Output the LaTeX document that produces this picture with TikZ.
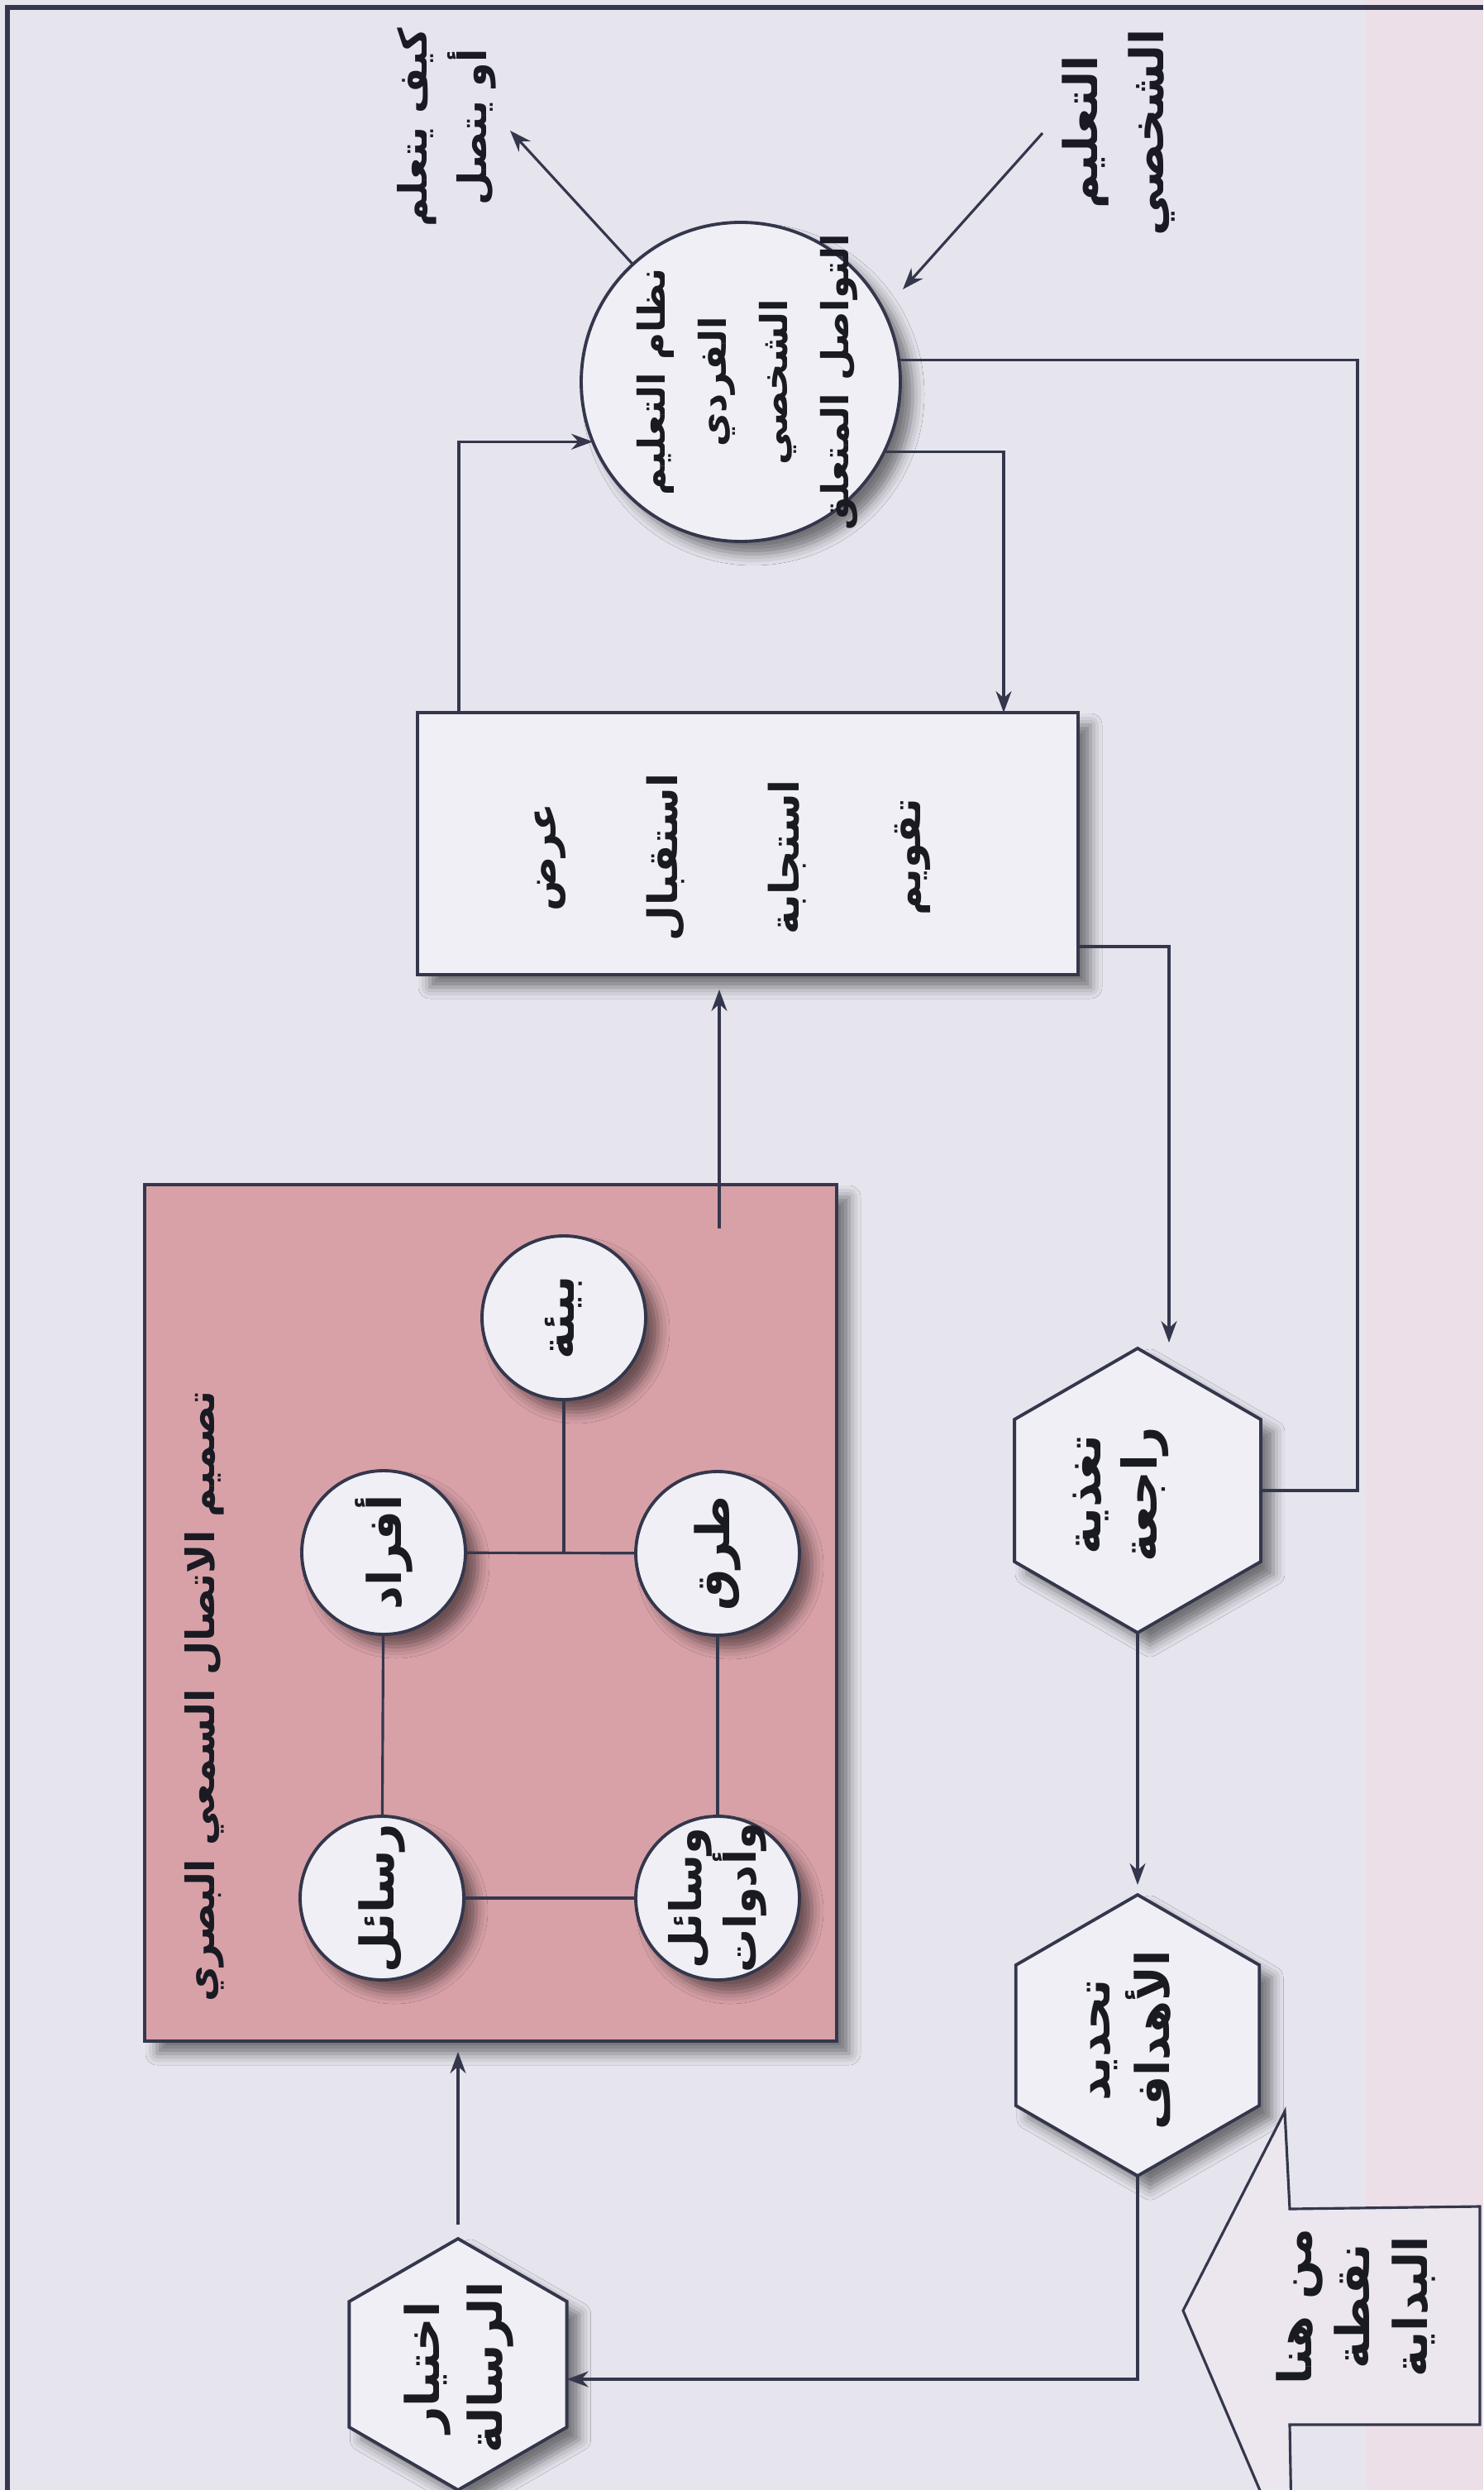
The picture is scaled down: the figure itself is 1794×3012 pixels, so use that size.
\documentclass[tikz,border=0pt]{standalone}
\usepackage{fontspec}
\newfontfamily\arabicfont[Script=Arabic]{DejaVu Sans}
\TeXXeTstate=1
\usetikzlibrary{arrows.meta,shapes.geometric,shadows.blur,calc}
\newcommand{\arl}[1]{\beginR #1\endR}
\definecolor{bgc}{HTML}{E6E5EE}
\definecolor{nodec}{HTML}{EFEFF5}
\definecolor{linec}{HTML}{34374C}
\definecolor{pinkc}{HTML}{D8A1A8}
\definecolor{stripc}{HTML}{EDDFE7}
\definecolor{startc}{HTML}{ECE7EE}
\definecolor{txtc}{HTML}{1A1A22}
\tikzset{
  ln/.style={draw=linec, line width=0.9pt},
  arr/.style={ln, -{Stealth[length=2.6mm,width=1.9mm]}},
  shp/.style={draw=linec, line width=1.1pt, fill=nodec, inner sep=0pt, outer sep=0pt,
    blur shadow={shadow xshift=1.5mm, shadow yshift=-1.5mm, shadow blur radius=1.4mm, shadow opacity=50}},
  rnd/.style={shp, circle},
  hexa/.style={shp, regular polygon, regular polygon sides=6, shape border rotate=90},
  txt/.style={font=\arabicfont\bfseries\fontsize{16}{21}\selectfont, rotate=90, align=center, inner sep=0pt, text=txtc},
}
\begin{document}
\begin{tikzpicture}[x=0.1mm, y=-0.1mm]
\useasboundingbox (0,0) rectangle (1794,3012);
\clip (0,0) rectangle (1794,3012);
% background
\fill[bgc] (0,0) rectangle (1794,3012);
\fill[stripc] (1652,0) rectangle (1794,3012);
\draw[linec, line width=1.5pt] (9,3012) -- (9,9) -- (1794,9);

% pink design box
\node[shp, fill=pinkc, rectangle, minimum width=83.7mm, minimum height=103.6mm] (pink) at (593.5,1951) {};
\node[txt, font=\arabicfont\bfseries\fontsize{13.5}{18}\selectfont] (pinkT) at (247,2052) {\arl{تصميم الاتصال السمعي البصري}};

% inner circles
\node[rnd, minimum size=19.8mm] (bia) at (682,1594) {};
\node[rnd, minimum size=19.8mm] (afrad) at (464,1878) {};
\node[rnd, minimum size=19.8mm] (turuq) at (868,1879) {};
\node[rnd, minimum size=19.8mm] (rasael) at (462,2296) {};
\node[rnd, minimum size=19.8mm] (wasael) at (868,2296) {};
\node[txt] (biaT) at (682,1594) {\arl{بيئة}};
\node[txt] (afradT) at (464,1878) {\arl{أفراد}};
\node[txt] (turuqT) at (868,1879) {\arl{طرق}};
\node[txt] (rasaelT) at (462,2296) {\arl{رسائل}};
\node[txt, font=\arabicfont\bfseries\fontsize{15}{19}\selectfont] (wasaelT) at (868,2296) {\arl{وسائل}\\\arl{وأدوات}};
\draw[ln] (afrad) -- (turuq);
\draw[ln] (bia.south) -- (bia.south |- afrad.east);
\draw[ln] (afrad) -- (rasael);
\draw[ln] (turuq) -- (wasael);
\draw[ln] (rasael) -- (wasael);

% presentation box
\node[shp, rectangle, minimum width=79.9mm, minimum height=31.7mm] (rect) at (904.5,1020.5) {};
\node[txt, font=\arabicfont\bfseries\fontsize{14}{41.8}\selectfont] (rectT) at (886,1037) {\arl{عرض}\\\arl{استقبال}\\\arl{استجابة}\\\arl{تقويم}};

% system circle
\node[rnd, minimum size=38.6mm] (sys) at (896,462) {};
\node[txt, font=\arabicfont\bfseries\fontsize{12.8}{21}\selectfont] (sysT) at (904,462) {\arl{نظام التعليم}\\\arl{الفردي}\\\arl{الشخصي}\\\arl{التواصل المتعلق}};

% labels
\node[txt, font=\arabicfont\bfseries\fontsize{13.5}{20.5}\selectfont] (howT) at (540,154) {\arl{كيف يتعلم}\\\arl{أو يتصل}};
\node[txt, font=\arabicfont\bfseries\fontsize{16}{23}\selectfont] (persT) at (1353,160) {\arl{التعليم}\\\arl{الشخصي}};
\coordinate (howA) at (617,158);
\coordinate (persA) at (1261,161);
\coordinate (persB) at (1092,350);

% hexagons
\node[hexa, minimum size=34.4mm] (fb) at (1376,1803) {};
\node[hexa, minimum size=34mm] (goals) at (1376,2462) {};
\node[hexa, minimum size=30.4mm] (sel) at (554,2860) {};
\node[txt, font=\arabicfont\bfseries\fontsize{16.5}{19.5}\selectfont] (fbT) at (1356,1808) {\arl{تغذية}\\\arl{راجعة}};
\node[txt, font=\arabicfont\bfseries\fontsize{16}{20.5}\selectfont] (goalsT) at (1366,2468) {\arl{تحديد}\\\arl{الأهداف}};
\node[txt, font=\arabicfont\bfseries\fontsize{16}{21.5}\selectfont] (selT) at (555,2864) {\arl{اختيار}\\\arl{الرسالة}};

% start arrow
\draw[linec, line width=0.9pt, fill=startc]
  (1431,2795) -- (1554,2554) -- (1560,2672) -- (1790,2669) -- (1790,2933)
  -- (1560,2933) -- (1562,3050) -- (1540,3050) -- cycle;
\node[txt, font=\arabicfont\bfseries\fontsize{16}{20}\selectfont] (startT) at (1640,2790) {\arl{من هنا}\\\arl{نقطة}\\\arl{البداية}};

% connectors
\draw[arr] (sys) -- (howA);
\draw[arr] (persA) -- (persB);
\draw[arr] ([xshift=5mm]rect.north west) |- (sys.202);
\draw[arr] (sys.-26.5) -| ([xshift=-9mm]rect.north east);
\draw[arr] ([yshift=-12.45mm]rect.east) -| ([xshift=3.8mm,yshift=0.7mm]fb.north);
\draw[ln] (sys.8.6) -| ([xshift=11.7mm]fb.east) -- (fb.east);
\draw[arr] (fb.south) -- ([yshift=1.2mm]goals.north);
\draw[arr] (goals.south) |- ([yshift=-1.8mm]sel.east);
\draw[arr, shorten <=1.7mm, shorten >=1.3mm] (sel.north) -- (sel.north |- pink.south);
\coordinate (pa) at ([xshift=27.65mm,yshift=-5.3mm]pink.north);
\draw[arr, shorten >=1.8mm] (pa) -- (pa |- rect.south);
\end{tikzpicture}
\end{document}
